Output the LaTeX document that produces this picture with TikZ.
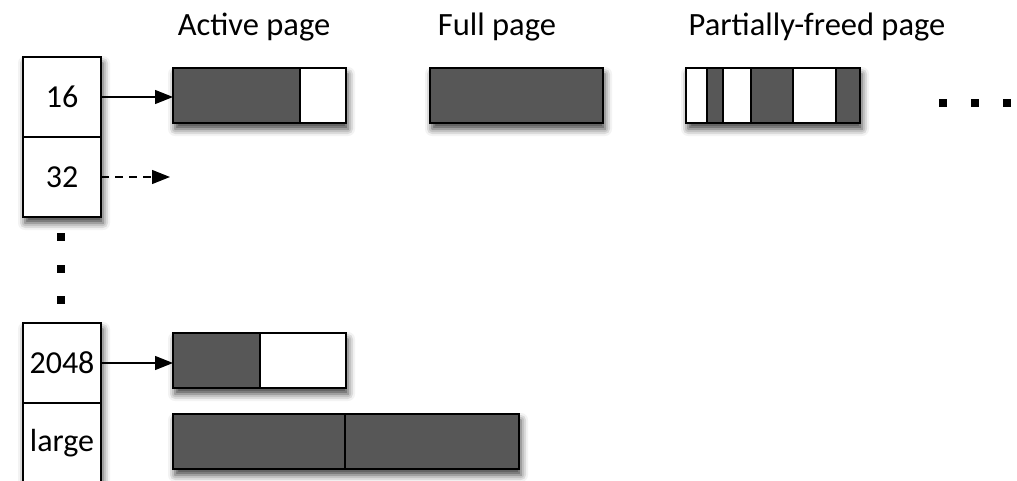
\documentclass[tikz,border=0pt]{standalone}
\usepackage{fontspec}
\setmainfont{Carlito}
\usetikzlibrary{arrows.meta,positioning,fit,backgrounds,shadows.blur}
\definecolor{darkseg}{gray}{0.34}
\begin{document}
\begin{tikzpicture}[x=1pt,y=-1pt,
  cell/.style={draw,line width=1.6pt,minimum width=78pt,minimum height=80pt,
               inner sep=0pt,outer sep=0pt,font=\fontsize{32}{36}\selectfont},
  seg/.style={draw,line width=1.6pt,minimum height=55pt,inner sep=0pt,outer sep=0pt},
  used/.style={seg,fill=darkseg},
  free/.style={seg,fill=white},
  frame/.style={draw,line width=1.6pt,inner sep=0pt,fill=white,
                blur shadow={shadow xshift=2pt,shadow yshift=-6pt,
                             shadow blur radius=7pt,shadow opacity=75}},
  arr/.style={-{Triangle[length=18pt,width=14pt]},line width=1.3pt},
  title/.style={font=\fontsize{32.5}{38}\selectfont,anchor=base},
  dot/.style={fill=black,minimum size=8pt,inner sep=0pt}]
\useasboundingbox (0,0) rectangle (1017,480);
% size classes
\node[cell] (c16) at (62,97) {16};
\node[cell,below=0pt of c16] (c32) {32};
\node[cell] (c2048) at (62,363) {2048};
\node[cell,below=0pt of c2048] (clarge) {large};
\foreach \y [count=\i] in {237,269,300} \node[dot] (vdot\i) at (61,\y) {};
% titles
\node[title] (tact) at (254,35) {Active page};
\node[title] (tfull) at (497,35) {Full page};
\node[title] (tpart) at (817,35) {Partially-freed page};
% pages
\node[used,minimum width=127pt,anchor=west] (act1) at (173,95.5) {};
\node[free,minimum width=46pt,right=0pt of act1] (act2) {};
\node[used,minimum width=173pt,anchor=west] (full1) at (430,95.5) {};
\node[free,minimum width=21pt,anchor=west] (part1) at (686,95.5) {};
\node[used,minimum width=16pt,right=0pt of part1] (part2) {};
\node[free,minimum width=28pt,right=0pt of part2] (part3) {};
\node[used,minimum width=42pt,right=0pt of part3] (part4) {};
\node[free,minimum width=43pt,right=0pt of part4] (part5) {};
\node[used,minimum width=24pt,right=0pt of part5] (part6) {};
\node[used,minimum width=87pt,anchor=west] (sm1) at (173,360.5) {};
\node[free,minimum width=86pt,right=0pt of sm1] (sm2) {};
\node[used,minimum width=172pt,anchor=west] (big1) at (173,441.5) {};
\node[used,minimum width=174pt,right=0pt of big1] (big2) {};
\foreach \x [count=\i] in {943,975,1007} \node[dot] (hdot\i) at (\x,103) {};
% links
\coordinate (end32) at (170,177);
\draw[arr] (c16.east) -- (c16.east -| act1.west);
\draw[arr,dash pattern=on 8pt off 6pt] (c32.east) -- (end32);
\draw[arr] (c2048.east) -- (c2048.east -| sm1.west);
\begin{scope}[on background layer]
\node[frame,fit=(c16)(c32)] {};
\node[frame,fit=(c2048)(clarge)] {};
\node[frame,fit=(act1)(act2)] {};
\node[frame,fit=(full1)] {};
\node[frame,fit=(part1)(part6)] {};
\node[frame,fit=(sm1)(sm2)] {};
\node[frame,fit=(big1)(big2)] {};
\end{scope}
\end{tikzpicture}
\end{document}
